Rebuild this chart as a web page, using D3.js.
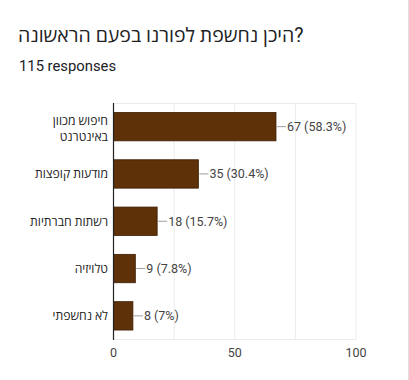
<!DOCTYPE html>
<html><head><meta charset="utf-8">
<script src="https://cdn.jsdelivr.net/npm/d3@7"></script>
<style>
html,body{margin:0;padding:0;background:#fff;}
svg{display:block;font-family:Roboto,"Open Sans",sans-serif;}
</style></head>
<body><svg id="c" width="409" height="380"></svg>
<script>
const title = "היכן נחשפת לפורנו בפעם הראשונה?";
const subtitle = "115 responses";
const categories = [["חיפוש מכוון","באינטרנט"],["מודעות קופצות"],["רשתות חברתיות"],["טלויזיה"],["לא נחשפתי"]];
const counts = [67, 35, 18, 9, 8];
const percents = ["58.3%", "30.4%", "15.7%", "7.8%", "7%"];
const ticks = [0, 50, 100];
const grid = [0, 25, 50, 75, 100];

const svg = d3.select("#c");
svg.append("line").attr("x1",408.5).attr("x2",408.5).attr("y1",0).attr("y2",380).attr("stroke","#e0e0e0");
svg.append("text").attr("x",18).attr("y",42).attr("font-size",19.5).attr("fill","#202124").text(title);
svg.append("text").attr("x",19).attr("y",71).attr("font-size",14.8).attr("fill","#202124").text(subtitle);

const x = d3.scaleLinear().domain([0,100]).range([113.5,356]);
const y = d3.scaleBand().domain(d3.range(categories.length)).range([103,339.5]).paddingInner(0.4).paddingOuter(0.2);

const g = svg.append("g");
g.selectAll("line.grid").data(grid).enter().append("line")
  .attr("x1",d=>x(d)).attr("x2",d=>x(d)).attr("y1",103).attr("y2",340)
  .attr("stroke","#ebebeb");
g.append("line").attr("x1",x(0)).attr("x2",x(100)).attr("y1",103.5).attr("y2",103.5).attr("stroke","#ebebeb");
g.append("line").attr("x1",x(0)).attr("x2",x(100)).attr("y1",339.5).attr("y2",339.5).attr("stroke","#ebebeb");

g.selectAll("rect.bar").data(counts).enter().append("rect")
  .attr("x",x(0)).attr("y",(d,i)=>y(i)).attr("width",d=>x(d)-x(0)).attr("height",y.bandwidth())
  .attr("fill","#5e3108").attr("stroke","#3d1e04").attr("stroke-width",0.8);

g.selectAll("line.lead").data(counts).enter().append("line")
  .attr("x1",d=>x(d)+1).attr("x2",d=>x(d)+10)
  .attr("y1",(d,i)=>y(i)+y.bandwidth()/2).attr("y2",(d,i)=>y(i)+y.bandwidth()/2)
  .attr("stroke","#9e9e9e");
g.selectAll("text.val").data(counts).enter().append("text")
  .attr("x",d=>x(d)+11).attr("y",(d,i)=>y(i)+y.bandwidth()/2+4.5)
  .attr("font-size",12.5).attr("fill","#444").text((d,i)=>`${d} (${percents[i]})`);

categories.forEach((lines,i)=>{
  const cy = y(i)+y.bandwidth()/2 + (lines.length>1?1.5:0);
  const t = g.append("text").attr("text-anchor","end").attr("font-size",12.2).attr("fill","#222");
  lines.forEach((ln,j)=>{
    t.append("tspan").attr("x",108).attr("y",cy + 4.5 + (j-(lines.length-1)/2)*16).text(ln);
  });
});

g.append("line").attr("x1",x(0)).attr("x2",x(0)).attr("y1",103).attr("y2",340).attr("stroke","#222").attr("stroke-width",1.2);

g.selectAll("text.tick").data(ticks).enter().append("text")
  .attr("x",d=>x(d)).attr("y",357).attr("text-anchor","middle").attr("font-size",12.5).attr("fill","#444").text(d=>d);
</script></body></html>
